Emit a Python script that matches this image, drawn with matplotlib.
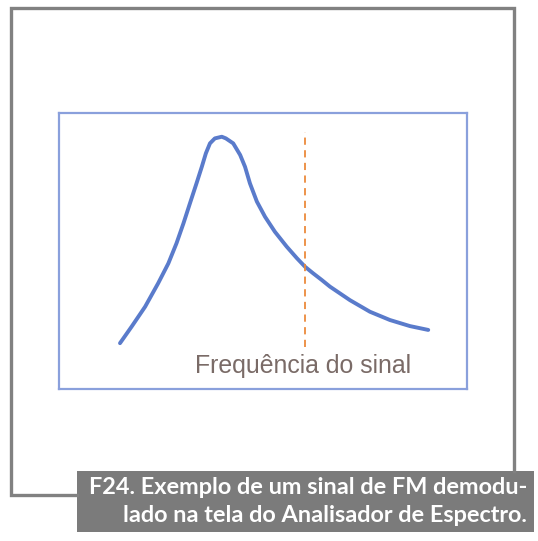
import matplotlib
matplotlib.use("Agg")
import matplotlib.pyplot as plt
from matplotlib.lines import Line2D
from matplotlib.patches import Rectangle

# demodulated FM signal as seen on the spectrum analyser (arbitrary units, 0-100)
freq = [14.95, 17.8, 21.1, 24.3, 26.8, 28.8, 30.5, 32.1, 33.7, 35.0, 36.0,
        37.0, 38.2, 39.9, 40.9, 42.7, 44.4, 45.6, 46.8, 48.5, 50.5, 52.9,
        55.8, 58.3, 60.3, 62.3, 64.4, 66.4, 71.3, 76.2, 81.1, 86.0, 90.5]
level = [16.6, 22.6, 29.8, 38.3, 45.5, 52.8, 60.0, 67.3, 74.5, 80.5, 85.4,
         89.0, 90.8, 91.4, 90.8, 89.0, 84.8, 80.5, 74.5, 67.9, 62.4, 57.0,
         51.6, 47.4, 44.3, 41.9, 39.5, 37.1, 32.2, 28.0, 25.0, 22.8, 21.4]

# marker for the signal frequency
signal_freq = 60.3
marker_range = [15.2, 93.1]
marker_label = "Frequência do sinal"

caption_lines = ["F24. Exemplo de um sinal de FM demodu-",
                 "lado na tela do Analisador de Espectro."]

W, H = 538, 541
fig = plt.figure(figsize=(W / 100, H / 100), dpi=100)
fig.patch.set_facecolor("white")

def fx(px):
    return px / W

def fy(py):
    return 1 - py / H

# outer grey frame
frame = "#818181"
fig.add_artist(Line2D([fx(77), fx(11), fx(11), fx(514), fx(514)],
                      [fy(495), fy(495), fy(8), fy(8), fy(471)],
                      color=frame, lw=2.4, transform=fig.transFigure,
                      solid_joinstyle="miter"))

# caption box
fig.add_artist(Rectangle((fx(77), fy(532)), fx(534) - fx(77), fy(471) - fy(532),
                         facecolor="#7b7b7b", edgecolor="none",
                         transform=fig.transFigure))
cap_font = ["Lato", "DejaVu Sans"]
fig.text(fx(527), fy(487), caption_lines[0], ha="right", va="center",
         color="white", fontsize=16.9, fontweight="bold", family=cap_font)
fig.text(fx(527), fy(515), caption_lines[1], ha="right", va="center",
         color="white", fontsize=16.9, fontweight="bold", family=cap_font)

# inner plot
ax = fig.add_axes([fx(59), fy(389), fx(467) - fx(59), fy(113) - fy(389)])
ax.plot(freq, level, color="#5a7bcb", lw=2.8, solid_capstyle="round",
        solid_joinstyle="round")
ax.plot([signal_freq, signal_freq], marker_range, color="#ec8a3c", lw=1.3,
        dashes=(4, 3))
ax.text(33.3, 5.8, marker_label, color="#7a6b67", fontsize=17.9,
        family=["Liberation Sans", "DejaVu Sans"], va="baseline")
ax.set_xlim(0, 100)
ax.set_ylim(0, 100)
ax.set_xticks([])
ax.set_yticks([])
for s in ax.spines.values():
    s.set_color("#8aa0dc")
    s.set_linewidth(1.6)

fig.savefig("out.png", dpi=100)
